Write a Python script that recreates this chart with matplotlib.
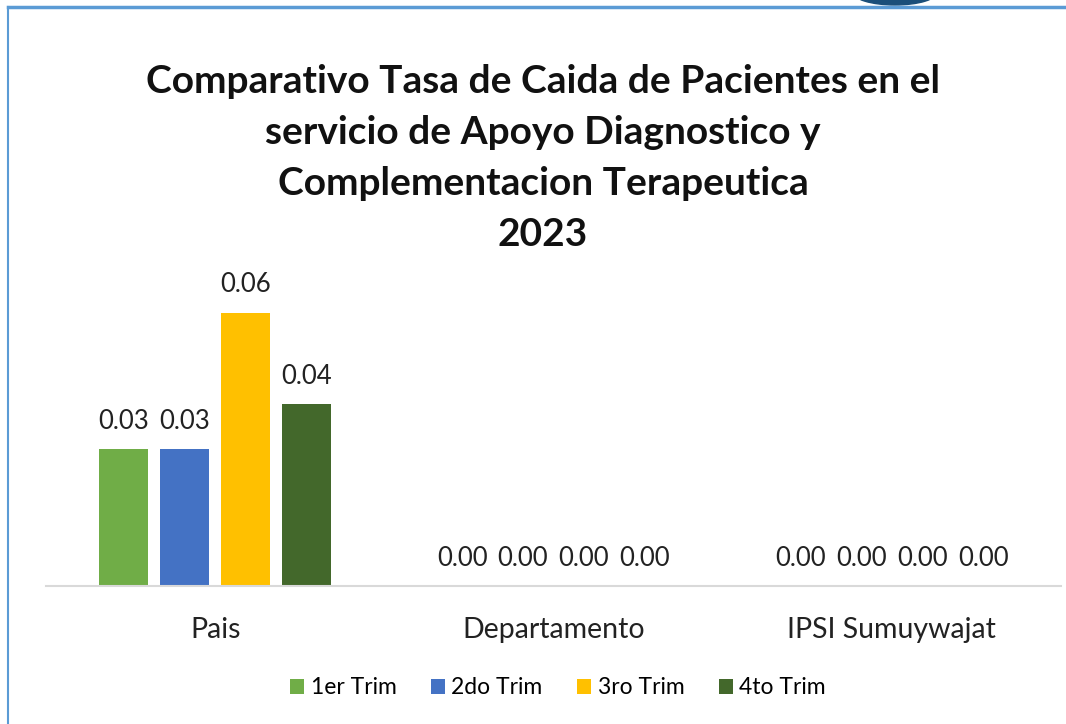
import matplotlib.pyplot as plt
import numpy as np
from matplotlib.patches import Ellipse

plt.rcParams['font.family'] = ['Lato', 'DejaVu Sans']

categories = ['Pais', 'Departamento', 'IPSI Sumuywajat']
series_names = ['1er Trim', '2do Trim', '3ro Trim', '4to Trim']
values = {
    '1er Trim': [0.03, 0.00, 0.00],
    '2do Trim': [0.03, 0.00, 0.00],
    '3ro Trim': [0.06, 0.00, 0.00],
    '4to Trim': [0.04, 0.00, 0.00],
}
colors = ['#70AD47', '#4472C4', '#FFC000', '#43682B']

W, H = 1066, 724
fig = plt.figure(figsize=(W / 100, H / 100), dpi=100)

# blue frame of the pasted chart
fig.add_artist(plt.Line2D([8 / W, 1], [1 - 7 / H, 1 - 7 / H], color='#5B9BD5', lw=2.5))
fig.add_artist(plt.Line2D([8 / W, 8 / W], [0, 1 - 7 / H], color='#5B9BD5', lw=1.5))
fig.add_artist(Ellipse((895 / W, 1 + 8 / H), 85 / W, 26 / H, color='#1B4F7A'))

ax = fig.add_axes([46 / W, 138 / H, (1061 - 46) / W, 296 / H])
x = np.arange(len(categories))
width = 0.145
step = 0.18
for i, name in enumerate(series_names):
    pos = x + (i - 1.5) * step
    bars = ax.bar(pos, values[name], width, color=colors[i], label=name)
    for b, v in zip(bars, values[name]):
        ax.text(b.get_x() + b.get_width() / 2, v + 0.0061, f'{v:.2f}',
                ha='center', va='center', fontsize=18.5, color='#222222')

ax.set_xlim(-0.5, 2.5)
ax.set_ylim(0, 0.065)
ax.set_xticks(x)
ax.set_xticklabels(categories, fontsize=20.5, color='#222222')
ax.tick_params(axis='x', length=0, pad=22)
ax.set_yticks([])
for s in ['top', 'right', 'left']:
    ax.spines[s].set_visible(False)
ax.spines['bottom'].set_color('#D9D9D9')
ax.spines['bottom'].set_linewidth(1.5)

fig.text(543 / W, 1 - 158 / H,
         'Comparativo Tasa de Caida de Pacientes en el\nservicio de Apoyo Diagnostico y\nComplementacion Terapeutica\n2023',
         ha='center', va='center', fontsize=28, fontweight='bold', linespacing=1.55, color='#111111')

fig.legend(loc='center', bbox_to_anchor=(558 / W, 1 - 688 / H), ncol=4, frameon=False,
           fontsize=16.5, handlelength=0.6, handleheight=0.6, handletextpad=0.3, columnspacing=1.5)

fig.savefig('out.png', dpi=100)
